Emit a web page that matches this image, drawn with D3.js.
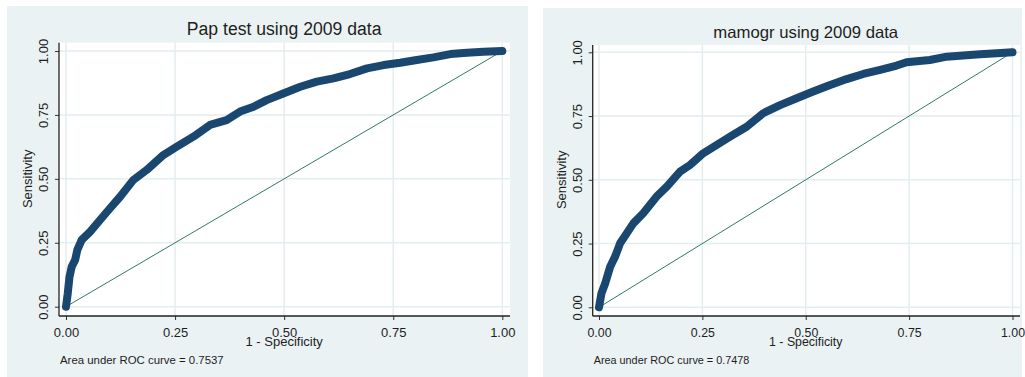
<!DOCTYPE html>
<html>
<head>
<meta charset="utf-8">
<script src="https://cdn.jsdelivr.net/npm/d3@7"></script>
<style>
  html, body { margin: 0; padding: 0; background: #fff; }
  svg { display: block; font-family: "Liberation Sans", Arial, sans-serif; }
</style>
</head>
<body>
<svg id="chart" width="1025" height="377"></svg>
<script>
// ROC points: 1 - specificity, sensitivity
const papFpr = [0, 0.004, 0.008, 0.013, 0.021, 0.026, 0.036, 0.055, 0.078, 0.101, 0.124, 0.154, 0.185, 0.223, 0.254, 0.292, 0.330, 0.368, 0.399, 0.430, 0.460, 0.498, 0.537, 0.575, 0.613, 0.651, 0.690, 0.728, 0.766, 0.804, 0.842, 0.881, 0.919, 0.957, 1];
const papTpr = [0, 0.052, 0.117, 0.156, 0.183, 0.222, 0.261, 0.293, 0.339, 0.385, 0.430, 0.495, 0.535, 0.593, 0.626, 0.665, 0.711, 0.730, 0.763, 0.782, 0.808, 0.834, 0.860, 0.880, 0.893, 0.910, 0.932, 0.945, 0.954, 0.965, 0.975, 0.988, 0.993, 0.997, 1];

const mamFpr = [0, 0.006, 0.015, 0.027, 0.039, 0.051, 0.067, 0.083, 0.107, 0.139, 0.164, 0.196, 0.220, 0.252, 0.285, 0.317, 0.357, 0.397, 0.438, 0.478, 0.518, 0.559, 0.599, 0.639, 0.680, 0.720, 0.744, 0.800, 0.841, 0.881, 0.921, 0.962, 1];
const mamTpr = [0, 0.055, 0.094, 0.159, 0.199, 0.251, 0.290, 0.329, 0.369, 0.434, 0.473, 0.532, 0.558, 0.604, 0.637, 0.669, 0.708, 0.761, 0.793, 0.820, 0.846, 0.872, 0.895, 0.915, 0.931, 0.948, 0.961, 0.970, 0.983, 0.987, 0.992, 0.996, 1];

const tickValues = [0, 0.25, 0.5, 0.75, 1];
const titles = ["Pap test using 2009 data", "mamogr using 2009 data"];
const aucValues = [0.7537, 0.7478];
const xLabel = "1 - Specificity";
const yLabel = "Sensitivity";

// colours (Stata s2color look)
const bgColor = "#eaf2f3";
const gridColor = "#e4edef";
const curveColor = "#1a476f";
const refColor = "#2f7a66";
const textColor = "#1e1e1e";

// layout of the two panels
const panels = [
  { fpr: papFpr, tpr: papTpr, title: titles[0], auc: aucValues[0],
    bg: { x: 7, y: 6, w: 521, h: 371 },
    box: { left: 59, top: 42.7, right: 510, bottom: 316 },
    xRange: [66, 502.3], yRange: [306.7, 51],
    titleY: 35.2, k: 1 },
  { fpr: mamFpr, tpr: mamTpr, title: titles[1], auc: aucValues[1],
    bg: { x: 543, y: 8, w: 479, h: 369 },
    box: { left: 592.7, top: 45, right: 1020, bottom: 316 },
    xRange: [599, 1012.5], yRange: [307.3, 52.3],
    titleY: 37.8, k: 0.95 }
];

const svg = d3.select("#chart");
const fmt = d3.format(".2f");

panels.forEach(p => drawPanel(p));

function drawPanel(p) {
  const g = svg.append("g");

  // panel background and white plot region
  g.append("rect")
    .attr("x", p.bg.x).attr("y", p.bg.y)
    .attr("width", p.bg.w).attr("height", p.bg.h)
    .attr("fill", bgColor);
  g.append("rect")
    .attr("x", p.box.left).attr("y", p.box.top)
    .attr("width", p.box.right - p.box.left)
    .attr("height", p.box.bottom - p.box.top)
    .attr("fill", "#fff");

  // set the ranges
  const x = d3.scaleLinear().domain([0, 1]).range(p.xRange);
  const y = d3.scaleLinear().domain([0, 1]).range(p.yRange);

  // grid lines
  g.selectAll(".hgrid")
    .data(tickValues)
    .join("line")
    .attr("x1", p.box.left).attr("x2", p.box.right)
    .attr("y1", d => y(d)).attr("y2", d => y(d))
    .attr("stroke", gridColor).attr("stroke-width", 1.5);
  g.selectAll(".vgrid")
    .data(tickValues)
    .join("line")
    .attr("y1", p.box.top).attr("y2", p.box.bottom)
    .attr("x1", d => x(d)).attr("x2", d => x(d))
    .attr("stroke", gridColor).attr("stroke-width", 1.5);

  // Add the X Axis
  const xAxis = g.append("g")
    .attr("transform", "translate(0," + p.box.bottom + ")")
    .call(d3.axisBottom(x).tickValues(tickValues).tickFormat(fmt).tickSize(4).tickPadding(8));
  xAxis.select(".domain").remove();
  xAxis.selectAll("line").attr("stroke", "#333");
  xAxis.selectAll("text")
    .attr("fill", textColor)
    .style("font-size", (13 * p.k) + "px")
    .style("font-family", "Liberation Sans, Arial, sans-serif");

  // Add the Y Axis, labels turned like Stata does
  const yAxis = g.append("g")
    .attr("transform", "translate(" + p.box.left + ",0)")
    .call(d3.axisLeft(y).tickValues(tickValues).tickFormat(fmt).tickSize(4));
  yAxis.select(".domain").remove();
  yAxis.selectAll("line").attr("stroke", "#333");
  yAxis.selectAll("text")
    .attr("x", 0).attr("dy", 0)
    .attr("transform", "translate(-11,0) rotate(-90)")
    .attr("text-anchor", "middle")
    .attr("fill", textColor)
    .style("font-size", "13px")
    .style("font-family", "Liberation Sans, Arial, sans-serif");

  // axis lines
  g.append("line")
    .attr("x1", p.box.left).attr("x2", p.box.right)
    .attr("y1", p.box.bottom).attr("y2", p.box.bottom)
    .attr("stroke", "#222").attr("stroke-width", 1.3);
  g.append("line")
    .attr("x1", p.box.left).attr("x2", p.box.left)
    .attr("y1", p.box.top).attr("y2", p.box.bottom)
    .attr("stroke", "#222").attr("stroke-width", 1.3);

  // reference diagonal
  g.append("path")
    .datum([[0, 0], [1, 1]])
    .attr("fill", "none")
    .attr("stroke", refColor)
    .attr("stroke-width", 1)
    .attr("d", d3.line().x(d => x(d[0])).y(d => y(d[1])));

  // the ROC curve, drawn thick like the joined markers
  const pts = p.fpr.map((v, i) => [v, p.tpr[i]]);
  g.append("path")
    .datum(pts)
    .attr("fill", "none")
    .attr("stroke", curveColor)
    .attr("stroke-width", 8)
    .attr("stroke-linecap", "round")
    .attr("stroke-linejoin", "round")
    .attr("d", d3.line().x(d => x(d[0])).y(d => y(d[1])));

  // title
  const cx = (p.xRange[0] + p.xRange[1]) / 2;
  g.append("text")
    .attr("x", cx).attr("y", p.titleY)
    .attr("text-anchor", "middle")
    .attr("fill", textColor)
    .style("font-size", (17.6 * p.k) + "px")
    .text(p.title);

  // text label for the x axis
  g.append("text")
    .attr("x", cx).attr("y", 346)
    .attr("text-anchor", "middle")
    .attr("fill", textColor)
    .style("font-size", (13 * p.k) + "px")
    .text(xLabel);

  // text label for the y axis
  const cy = (p.yRange[0] + p.yRange[1]) / 2;
  g.append("text")
    .attr("transform", "translate(" + (p.box.left - 27) + "," + cy + ") rotate(-90)")
    .attr("text-anchor", "middle")
    .attr("fill", textColor)
    .style("font-size", "13px")
    .text(yLabel);

  // area note under the plot
  g.append("text")
    .attr("x", p.box.left + 1).attr("y", 363.5)
    .attr("fill", textColor)
    .style("font-size", (11.4 * p.k) + "px")
    .text("Area under ROC curve = " + p.auc.toFixed(4));
}
</script>
</body>
</html>
